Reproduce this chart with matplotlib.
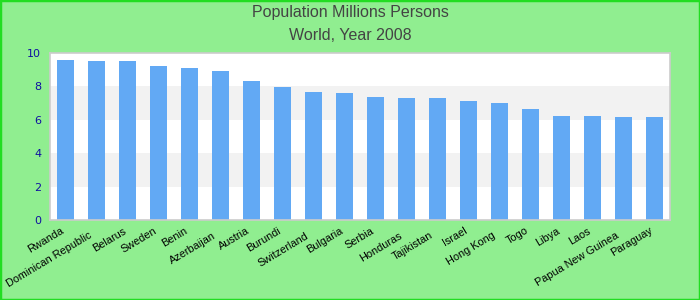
import matplotlib
matplotlib.use("Agg")
import matplotlib.pyplot as plt
from matplotlib.patches import Rectangle
import matplotlib.transforms as mtransforms

countries = ["Rwanda", "Dominican Republic", "Belarus", "Sweden", "Benin", "Azerbaijan",
             "Austria", "Burundi", "Switzerland", "Bulgaria", "Serbia", "Honduras",
             "Tajikistan", "Israel", "Hong Kong", "Togo", "Libya", "Laos",
             "Papua New Guinea", "Paraguay"]
values = [9.58, 9.52, 9.52, 9.22, 9.10, 8.92, 8.32, 7.96, 7.66, 7.60, 7.37, 7.31,
          7.31, 7.13, 7.00, 6.65, 6.23, 6.23, 6.17, 6.17]
low_labels = {"Dominican Republic", "Azerbaijan", "Switzerland", "Honduras",
              "Tajikistan", "Hong Kong", "Papua New Guinea"}
yticks = [0, 2, 4, 6, 8, 10]

fig = plt.figure(figsize=(7, 3), dpi=100, facecolor="#90EE90")
fig.patches.append(Rectangle((0, 0), 1, 1, transform=fig.transFigure, fill=False,
                             edgecolor="#22DD22", linewidth=2.5))
ax = fig.add_axes([50/700, 80/300, 620/700, 167/300])
ax.set_facecolor("white")
for lo in range(0, 10, 2):
    if (lo // 2) % 2 == 1:
        ax.axhspan(lo, lo + 2, color="#F2F2F2", zorder=0, lw=0)
x = list(range(len(countries)))
ax.bar(x, values, width=0.55, color="#62A9F4", zorder=2)
ax.set_xlim(-0.5, len(countries) - 0.5)
ax.set_ylim(0, 10)
ax.set_yticks(yticks)
ax.set_yticklabels([str(t) for t in yticks], color="#1010A0", fontsize=8,
                   family="DejaVu Sans")
ax.tick_params(axis="y", length=0, pad=10)
ax.tick_params(axis="x", length=0, pad=4)
ax.set_xticks(x)
ax.set_xticklabels(countries, rotation=31, ha="right", va="top",
                   rotation_mode="anchor", fontsize=7.8, family="Liberation Sans")
for lab in ax.get_xticklabels():
    if lab.get_text() in low_labels:
        lab.set_transform(lab.get_transform() +
                          mtransforms.ScaledTranslation(-8/100, -5/100, fig.dpi_scale_trans))
    else:
        lab.set_transform(lab.get_transform() +
                          mtransforms.ScaledTranslation(-5/100, 0, fig.dpi_scale_trans))
for lab in ax.get_yticklabels():
    lab.set_transform(lab.get_transform() +
                      mtransforms.ScaledTranslation(5/100, 0, fig.dpi_scale_trans))
for s in ax.spines.values():
    s.set_color("#CCCCCC")
    s.set_linewidth(1.2)

fig.text(0.5, 1 - 13/300, "Population Millions Persons", ha="center", va="center",
         fontsize=11.5, color="#444444", family="Liberation Sans")
fig.text(0.5, 1 - 35/300, "World, Year 2008", ha="center", va="center",
         fontsize=11.5, color="#444444", family="Liberation Sans")

fig.savefig("out.png", dpi=100, facecolor=fig.get_facecolor())
